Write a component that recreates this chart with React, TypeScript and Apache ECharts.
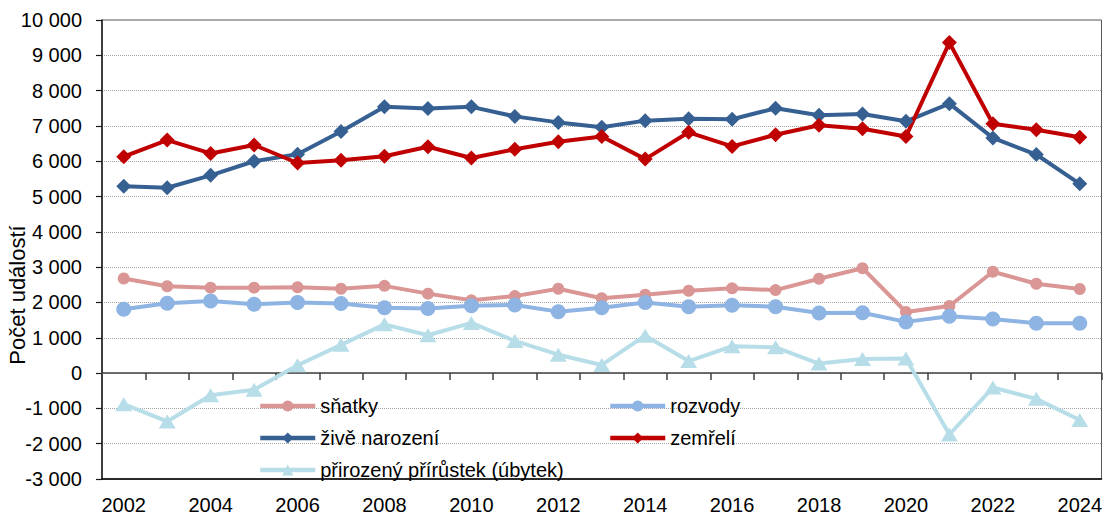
import React, { useEffect, useRef } from "react";
import * as echarts from "echarts";

const years = [
  "2002", "2003", "2004", "2005", "2006", "2007", "2008", "2009", "2010", "2011", "2012",
  "2013", "2014", "2015", "2016", "2017", "2018", "2019", "2020", "2021", "2022", "2023", "2024",
];

const snatky = [
  2680, 2460, 2420, 2420, 2430, 2390, 2470, 2250, 2060, 2180, 2390,
  2120, 2220, 2330, 2400, 2350, 2670, 2970, 1730, 1900, 2870, 2530, 2380,
];

const rozvody = [
  1810, 1980, 2040, 1950, 2000, 1970, 1850, 1830, 1910, 1930, 1740,
  1850, 2000, 1880, 1920, 1880, 1700, 1710, 1450, 1610, 1530, 1410, 1410,
];

const narozeni = [
  5290, 5250, 5600, 6000, 6200, 6840, 7540, 7490, 7540, 7270, 7100,
  6960, 7150, 7200, 7190, 7500, 7300, 7340, 7130, 7630, 6660, 6190, 5360,
];

const zemreli = [
  6130, 6600, 6220, 6460, 5950, 6030, 6140, 6410, 6090, 6340, 6550,
  6700, 6060, 6820, 6420, 6750, 7020, 6920, 6700, 9360, 7060, 6890, 6680,
];

const prirustek = [
  -880, -1370, -630, -470, 220, 800, 1380, 1070, 1420, 910, 520,
  230, 1060, 340, 760, 730, 270, 400, 410, -1740, -410, -730, -1330,
];

const yTicks = { min: -3000, max: 10000, interval: 1000 };

const FONT = "'Liberation Sans', Arial, sans-serif";

function fmt(v: number): string {
  const s = Math.abs(v).toString().replace(/\B(?=(\d{3})+(?!\d))/g, " ");
  return (v < 0 ? "-" : "") + s;
}

export default function App() {
  const ref = useRef<HTMLDivElement>(null);

  useEffect(() => {
    if (!ref.current) return;
    const chart = echarts.init(ref.current, null, { renderer: "svg" });
    const legendText = { fontFamily: FONT, fontSize: 20, color: "#000" };
    const legendBase = {
      orient: "vertical",
      top: 391,
      itemWidth: 55,
      itemHeight: 14,
      itemGap: 12,
      textStyle: legendText,
      lineStyle: { width: 4.5 },
    };
    const option: any = {
      animation: false,
      backgroundColor: "#fff",
      grid: {
        left: 102,
        right: 3,
        top: 20,
        bottom: 35,
        show: true,
        borderColor: "#595959",
        borderWidth: 1,
      },
      graphic: [
        {
          type: "text",
          x: 17,
          y: 295,
          rotation: Math.PI / 2,
          style: {
            text: "Počet událostí",
            fontFamily: FONT,
            fontSize: 22,
            fill: "#000",
            textAlign: "center",
            textVerticalAlign: "middle",
          },
        },
      ],
      legend: [
        {
          ...legendBase,
          left: 253,
          data: ["sňatky", "živě narození", "přirozený přírůstek (úbytek)"],
        },
        {
          ...legendBase,
          left: 603,
          data: ["rozvody", "zemřelí"],
        },
      ],
      xAxis: [
        {
          type: "category",
          data: years,
          position: "bottom",
          boundaryGap: true,
          axisLine: { show: true, onZero: false, lineStyle: { color: "#000", width: 1.5 } },
          axisTick: { show: false },
          axisLabel: {
            interval: 1,
            margin: 16,
            fontFamily: FONT,
            fontSize: 20,
            color: "#000",
          },
          splitLine: { show: false },
        },
        {
          type: "category",
          data: years,
          position: "bottom",
          boundaryGap: true,
          axisLine: { show: true, onZero: true, lineStyle: { color: "#404040", width: 1.5 } },
          axisTick: { show: true, interval: 0, length: 7, inside: false, lineStyle: { color: "#404040", width: 1.5 } },
          axisLabel: { show: false },
          splitLine: { show: false },
        },
      ],
      yAxis: {
        type: "value",
        min: yTicks.min,
        max: yTicks.max,
        interval: yTicks.interval,
        axisLine: { show: true, lineStyle: { color: "#1a1a1a", width: 1.5 } },
        axisTick: { show: true, length: 6, lineStyle: { color: "#1a1a1a", width: 1.2 } },
        axisLabel: {
          margin: 20,
          formatter: fmt,
          fontFamily: FONT,
          fontSize: 20,
          color: "#000",
        },
        splitLine: { show: true, lineStyle: { color: "#a6a6a6", type: "dotted", width: 1 } },
      },
      series: [
        {
          name: "sňatky",
          type: "line",
          data: snatky,
          symbol: "circle",
          symbolSize: 12,
          lineStyle: { width: 4, color: "#D99694" },
          itemStyle: { color: "#D99694" },
        },
        {
          name: "rozvody",
          type: "line",
          data: rozvody,
          symbol: "circle",
          symbolSize: 15,
          lineStyle: { width: 4, color: "#8EB4E3" },
          itemStyle: { color: "#8EB4E3" },
        },
        {
          name: "živě narození",
          type: "line",
          data: narozeni,
          symbol: "diamond",
          symbolSize: 15,
          lineStyle: { width: 4, color: "#376092" },
          itemStyle: { color: "#376092" },
        },
        {
          name: "zemřelí",
          type: "line",
          data: zemreli,
          symbol: "diamond",
          symbolSize: 15,
          lineStyle: { width: 4, color: "#C00000" },
          itemStyle: { color: "#C00000" },
        },
        {
          name: "přirozený přírůstek (úbytek)",
          type: "line",
          data: prirustek,
          symbol: "triangle",
          symbolSize: [17, 14],
          lineStyle: { width: 4, color: "#B7DEE8" },
          itemStyle: { color: "#B7DEE8" },
        },
      ],
    };
    chart.setOption(option);
    return () => chart.dispose();
  }, []);

  return (
    <div
      ref={ref}
      style={{ position: "fixed", left: 0, top: 0, width: 1105, height: 515, background: "#fff" }}
    />
  );
}
